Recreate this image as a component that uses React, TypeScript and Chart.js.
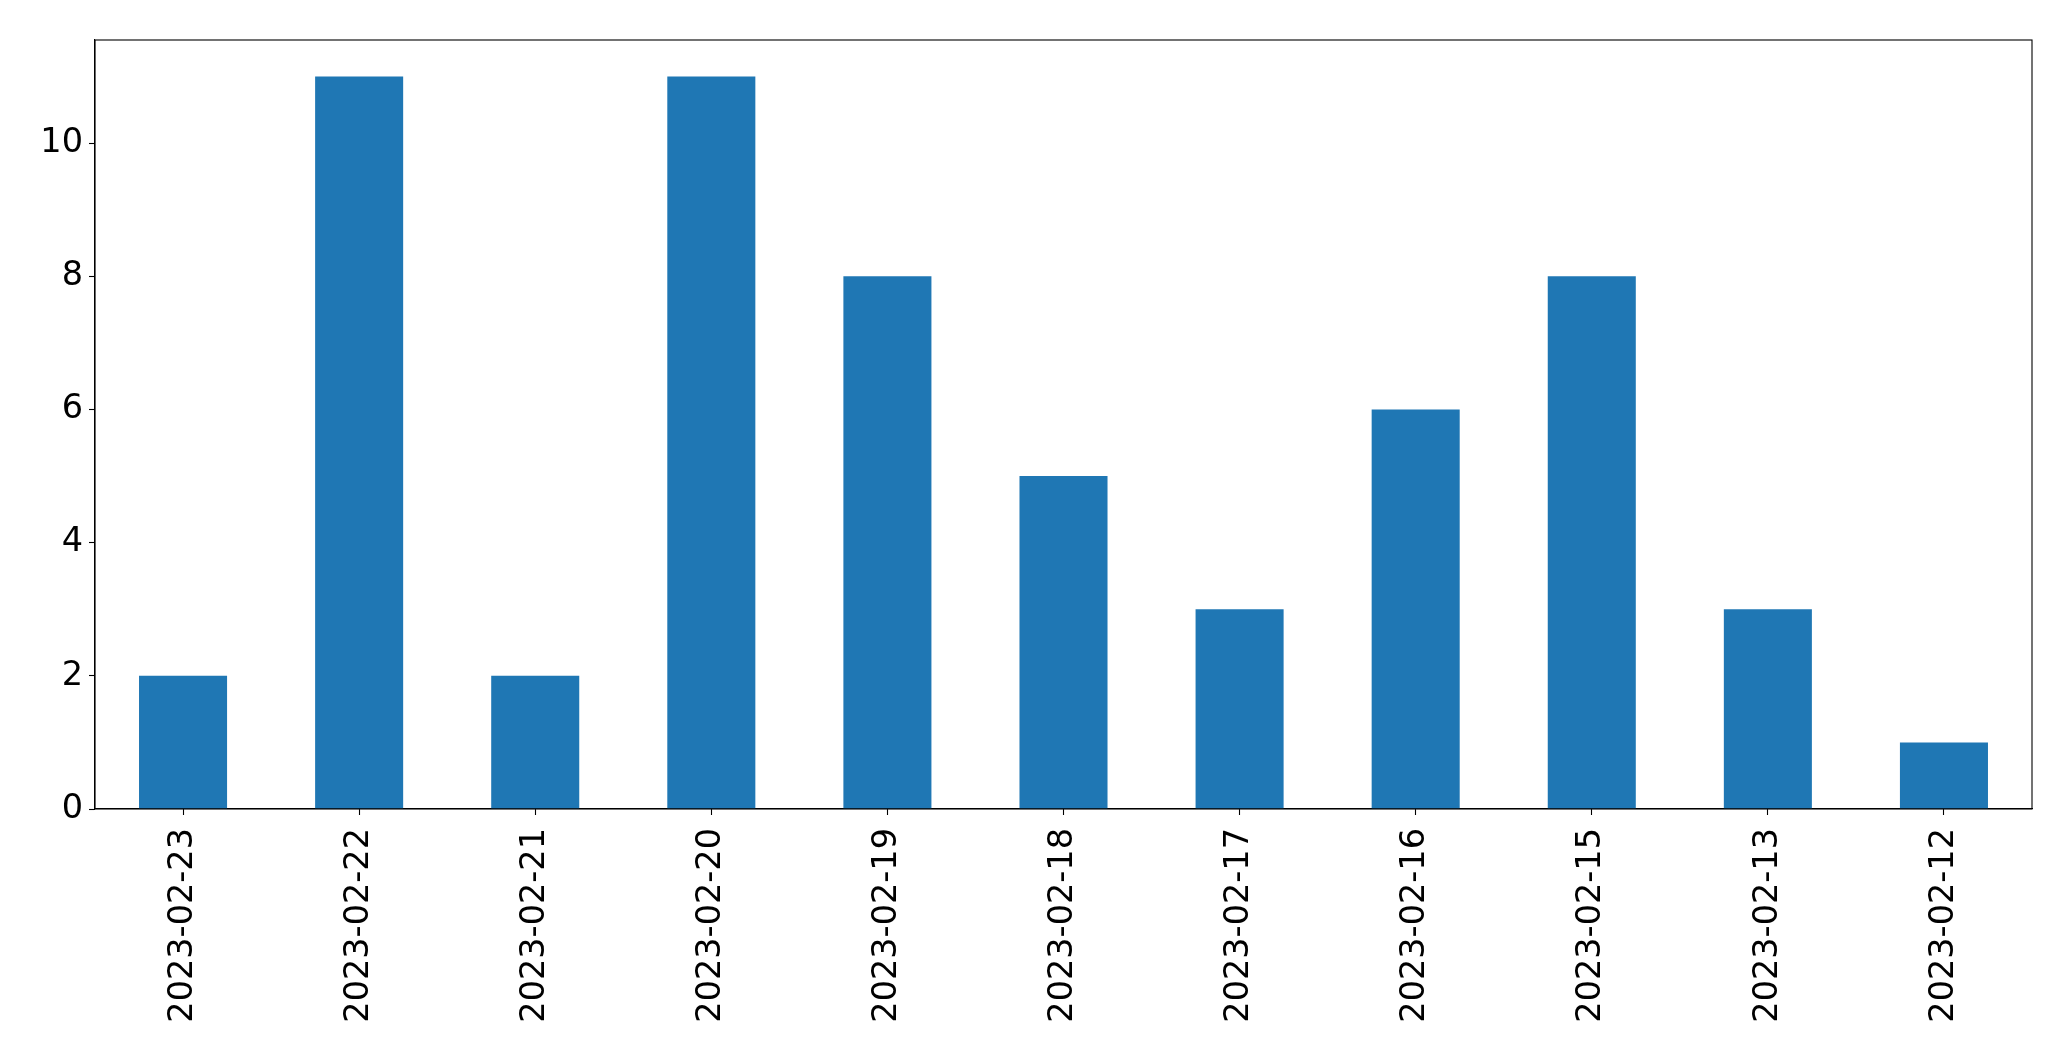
import React, { useEffect, useRef } from "react";
import { Chart, registerables } from "chart.js";

Chart.register(...registerables);

const categories = [
  "2023-02-23", "2023-02-22", "2023-02-21", "2023-02-20", "2023-02-19", "2023-02-18",
  "2023-02-17", "2023-02-16", "2023-02-15", "2023-02-13", "2023-02-12",
];
const counts = [2, 11, 2, 11, 8, 5, 3, 6, 8, 3, 1];
const yTicks = [0, 2, 4, 6, 8, 10];
const yMax = 11.55;

const W = 2071;
const H = 1061;
const PLOT_LEFT = 95;
const PLOT_RIGHT = 2032;
const PLOT_TOP = 40;
const PLOT_BOTTOM = 809;

const frame = {
  id: "frame",
  afterDraw(chart: any) {
    const { ctx, chartArea } = chart;
    ctx.save();
    ctx.strokeStyle = "#000";
    ctx.lineWidth = 1.1;
    ctx.strokeRect(chartArea.left, chartArea.top, chartArea.right - chartArea.left, chartArea.bottom - chartArea.top);
    ctx.restore();
  },
};

export default function App() {
  const ref = useRef<HTMLCanvasElement | null>(null);
  useEffect(() => {
    if (!ref.current) return;
    const font = { family: "'DejaVu Sans', sans-serif", size: 33.5 };
    const chart = new Chart(ref.current, {
      type: "bar",
      data: {
        labels: categories,
        datasets: [
          {
            data: counts,
            backgroundColor: "#1f77b4",
            borderWidth: 0,
            categoryPercentage: 1,
            barPercentage: 0.5,
          },
        ],
      },
      options: {
        animation: false,
        responsive: false,
        devicePixelRatio: 1,
        layout: { padding: { left: 0, right: W - PLOT_RIGHT, top: PLOT_TOP, bottom: 0 } },
        plugins: { legend: { display: false }, tooltip: { enabled: false } },
        scales: {
          x: {
            offset: true,
            grid: { display: true, drawOnChartArea: false, drawTicks: true, tickLength: 6, tickColor: "#000", tickWidth: 1.1, offset: false },
            border: { display: true, color: "#000", width: 1.1 },
            ticks: { color: "#000", font, minRotation: 90, maxRotation: 90, padding: 13, autoSkip: false },
            afterFit(scale: any) {
              scale.height = H - PLOT_BOTTOM;
            },
          },
          y: {
            min: 0,
            max: yMax,
            grid: { display: true, drawOnChartArea: false, drawTicks: true, tickLength: 6, tickColor: "#000", tickWidth: 1.1 },
            border: { display: true, color: "#000", width: 1.1 },
            ticks: { color: "#000", font, padding: 6 },
            afterBuildTicks(scale: any) {
              scale.ticks = yTicks.map((v) => ({ value: v }));
            },
            afterFit(scale: any) {
              scale.width = PLOT_LEFT;
            },
          },
        },
      },
      plugins: [frame],
    });
    return () => chart.destroy();
  }, []);
  return (
    <div style={{ position: "fixed", left: 0, top: 0, width: W, height: H, background: "#fff" }}>
      <canvas ref={ref} width={W} height={H} style={{ width: W, height: H, display: "block" }} />
    </div>
  );
}
